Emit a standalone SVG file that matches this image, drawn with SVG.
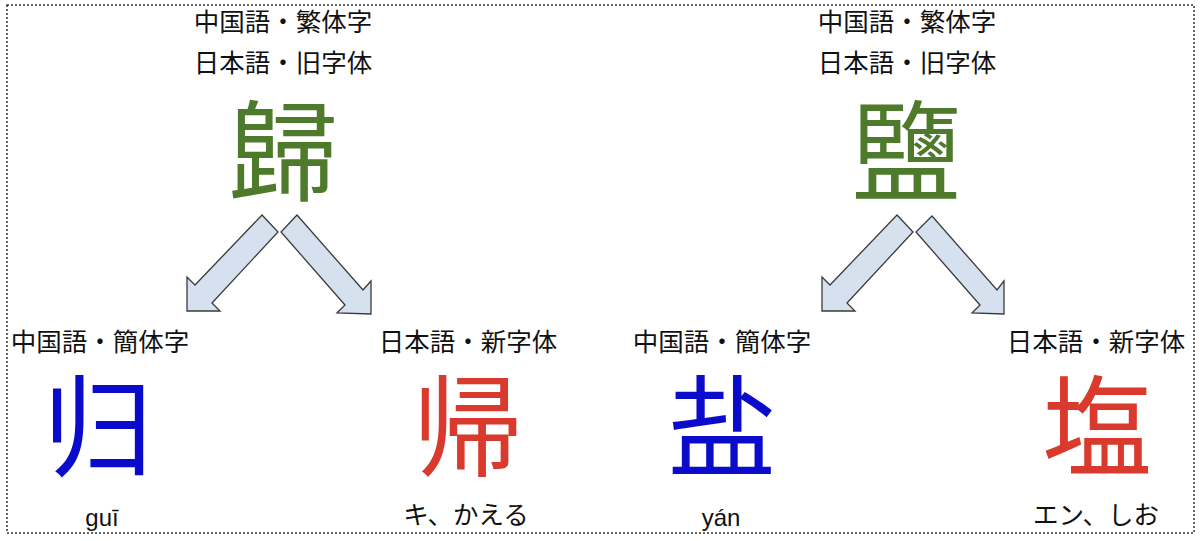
<svg xmlns="http://www.w3.org/2000/svg" width="1200" height="541" viewBox="0 0 1200 541">
<style>
.lbl{font-family:"Noto Sans CJK JP","Noto Sans CJK SC",sans-serif;font-size:25.5px;fill:#111;text-anchor:middle}
.big{font-family:"Noto Sans CJK JP","Noto Sans CJK SC",sans-serif;font-size:110px;text-anchor:middle}
.green{fill:#4e7a2c}
.blue{fill:#0b0bcc}
.red{fill:#d93a2d}
.pin{font-family:"Liberation Sans",Arial,sans-serif;font-size:24px;fill:#111;text-anchor:middle}
.arrow{fill:#d5e1ef;stroke:#3a3a3a;stroke-width:1.3;stroke-linejoin:miter}
</style>
<rect width="1200" height="541" fill="#fff"/>
<rect x="7" y="5" width="1187" height="528" fill="none" stroke="#333" stroke-width="1.5" stroke-dasharray="2,2"/>

<g id="node-gui-trad">
<text class="lbl" x="283" y="31">中国語・繁体字</text>
<text class="lbl" x="283" y="72">日本語・旧字体</text>
<text class="big green" x="283" y="193">歸</text>
</g>
<g id="node-gui-simp">
<text class="lbl" x="100" y="351">中国語・簡体字</text>
<text class="big blue" x="98" y="468">归</text>
<text class="pin" x="102" y="526">guī</text>
</g>
<g id="node-gui-jp">
<text class="lbl" x="468" y="351">日本語・新字体</text>
<text class="big red" x="468" y="468">帰</text>
<text class="lbl" x="466" y="524">キ、かえる</text>
</g>

<g id="node-yan-trad">
<text class="lbl" x="907" y="31">中国語・繁体字</text>
<text class="lbl" x="907" y="72">日本語・旧字体</text>
<text class="big green" x="906" y="193">鹽</text>
</g>
<g id="node-yan-simp">
<text class="lbl" x="722" y="351">中国語・簡体字</text>
<text class="big blue" x="722" y="468">盐</text>
<text class="pin" x="721" y="526">yán</text>
</g>
<g id="node-yan-jp">
<text class="lbl" x="1096" y="351">日本語・新字体</text>
<text class="big red" x="1097" y="468">塩</text>
<text class="lbl" x="1096" y="524">エン、しお</text>
</g>

<g id="connectors">
<polygon class="arrow" points="262,215 278,232 212,303 220,311 187,311 187,277 195,285"/>
<polygon class="arrow" points="297,215 281,232 345,305 337,313 371,314 371,281 363,290"/>
<polygon class="arrow" points="897,215 913,232 847,303 855,311 822,311 822,277 830,285"/>
<polygon class="arrow" points="932,216 916,232 980,305 972,313 1004,314 1004,281 997,290"/>
</g>
</svg>
